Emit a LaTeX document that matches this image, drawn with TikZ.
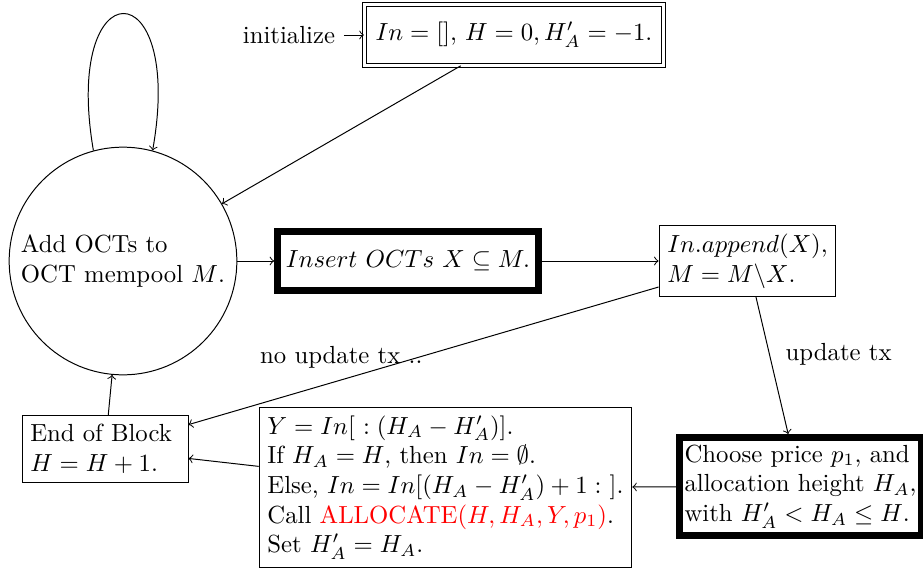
\documentclass[tikz,border=0pt]{standalone}
\usepackage{xcolor}
\begin{document}
\begin{tikzpicture}[x=0.40404pt,y=-0.40404pt,
  box/.style={draw, align=left},
  heavy/.style={draw, line width=2.8pt, align=left},
  dbl/.style={draw, double, double distance=1.2pt},
  every node/.style={font=\normalsize}]
\useasboundingbox (0,0) rectangle (923,570);
\node[circle, draw, minimum size=92pt, align=left, inner sep=0pt] (c) at (123,261) {Add OCTs to\\OCT mempool $M$.};
\node[dbl, minimum width=121pt, minimum height=24.5pt] (init) at (514,35) {$In=[]$, $H=0, H'_A=-1.$};
\node (initl) at (289,35) {initialize};
\node[heavy, minimum width=101pt, minimum height=23.8pt] (ins) at (408,261) {$Insert\ OCTs\ X\subseteq M.$};
\node[box, minimum width=67.5pt, minimum height=28.3pt] (app) at (747.5,261) {$In.append(X)$,\\$M=M\backslash X$.};
\node[heavy, minimum width=96pt, minimum height=39.6pt, inner sep=2pt] (ch) at (800.5,486.5) {Choose price $p_1$, and\\allocation height $H_A$,\\with $H'_A<H_A\le H$.};
\node[box, minimum width=150pt, minimum height=63.4pt] (al) at (445.5,487.5) {$Y=In[\ :(H_A-H'_A)]$.\\If $H_A=H$, then $In=\emptyset$.\\Else, $In=In[(H_A-H'_A)+1:\ ]$.\\Call \textcolor{red}{ALLOCATE$(H,H_A,Y,p_1)$}.\\Set $H'_A=H_A$.};
\node[box, text width=60.4pt, minimum height=26.7pt] (eb) at (105,449) {End of Block\\$H=H+1$.};
\draw[->] (c.105) .. controls (62,-32) and (185,-32) .. (c.75);
\draw[->] (initl) -- (init);
\draw[->] (init) -- (c);
\draw[->] (c) -- (ins);
\draw[->] (ins) -- (app);
\draw[->] (app) -- node[pos=0.42, right=3pt] {update tx} (ch);
\draw[->] (ch) -- (al);
\draw[->] (al) -- (eb);
\draw[->] (app) -- node[pos=0.675, above, yshift=1pt] {no update tx ..} (eb);
\draw[->] (eb) -- (c);
\end{tikzpicture}
\end{document}
